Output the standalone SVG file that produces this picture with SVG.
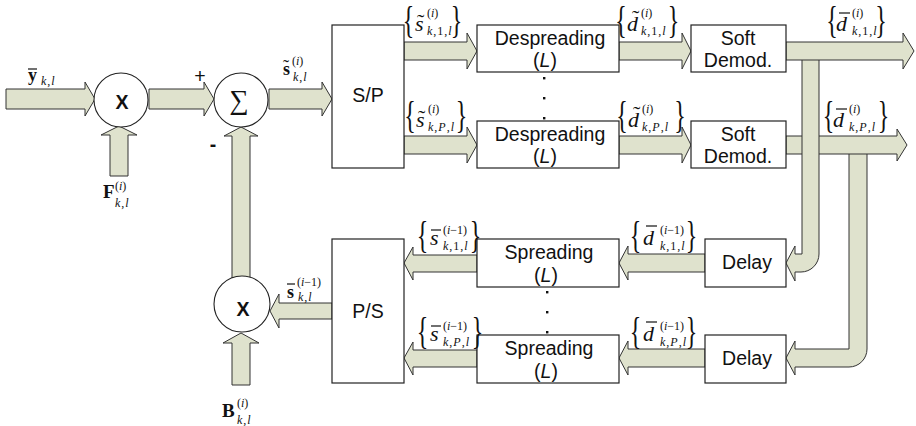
<svg xmlns="http://www.w3.org/2000/svg" width="916" height="426" viewBox="0 0 916 426">
<style>
.ar{fill:#dfe2cd;stroke:#333;stroke-width:1;stroke-linejoin:miter}
.bx{fill:#fff;stroke:#222;stroke-width:1.2}
.ci{fill:#fff;stroke:#222;stroke-width:1.1}
.t{font-family:"Liberation Sans",Arial,sans-serif;font-size:19.5px;text-anchor:middle;fill:#111}
.m{font-family:"Liberation Serif","Times New Roman",serif;fill:#111}
.mi{font-size:22px;font-style:italic}
.sp{font-size:12px}
.sb{font-size:12px;font-style:italic;letter-spacing:1px}
.br{font-size:24px;text-anchor:middle}
.ac{stroke:#111;stroke-width:1.2}
</style>
<rect width="916" height="426" fill="#fff"/>
<g id="connectors">
<polygon class="ar" points="6,89 85,89 85,82 95,99 85,116 85,109 6,109"/>
<polygon class="ar" points="149,89 204,89 204,82 214,99 204,116 204,109 149,109"/>
<polygon class="ar" points="269,89 322,89 322,82 332,99 322,116 322,109 269,109"/>
<polygon class="ar" points="110,176 110,135 101,135 119,126 137,135 128,135 128,176"/>
<polygon class="ar" points="232,278 232,136 224,136 241,127 258,136 250,136 250,278"/>
<polygon class="ar" points="232,385 232,343 223,343 241,333 259,343 250,343 250,385"/>
<polygon class="ar" points="332,303 279,303 279,294 270,311 279,328 279,319 332,319"/>
<polygon class="ar" points="404,42 467,42 467,33 477,51 467,69 467,60 404,60"/>
<polygon class="ar" points="404,136 467,136 467,127 477,145 467,163 467,154 404,154"/>
<polygon class="ar" points="619,42 682,42 682,33 691,51 682,69 682,60 619,60"/>
<polygon class="ar" points="619,136 682,136 682,127 691,145 682,163 682,154 619,154"/>
<path class="ar" d="M849,150 L849,349 L795,349 L795,341 L786,358 L795,375 L795,367 L849,367 A18,18 0 0 0 867,349 L867,150 Z"/>
<polygon class="ar" points="786,136 897,136 897,129 907,145 897,161 897,154 786,154"/>
<path class="ar" d="M802,56 L802,254 L795,254 L795,246 L786,263 L795,281 L795,272 L801,272 A18,18 0 0 0 819,254 L819,56 Z"/>
<polygon class="ar" points="786,42 903,42 903,33 914,51 903,69 903,60 786,60"/>
<polygon class="ar" points="705,254 628,254 628,246 619,263 628,280 628,272 705,272"/>
<polygon class="ar" points="705,349 628,349 628,341 619,358 628,375 628,367 705,367"/>
<polygon class="ar" points="477,255 413,255 413,247 404,263 413,280 413,272 477,272"/>
<polygon class="ar" points="477,350 413,350 413,342 404,358 413,375 413,367 477,367"/>
</g>
<g id="mul1"><circle class="ci" cx="121" cy="100" r="27"/><text class="t" x="122" y="109" font-size="24" font-weight="bold">X</text></g>
<g id="sum"><circle class="ci" cx="241" cy="100" r="27"/><text class="m" x="239" y="109" font-size="27" text-anchor="middle">∑</text>
<text class="t" x="200" y="83" font-size="22">+</text><text class="t" x="213" y="151" font-size="21" font-weight="bold">-</text></g>
<g id="mul2"><circle class="ci" cx="242" cy="304" r="28"/><text class="t" x="243" y="316" font-size="24" font-weight="bold">X</text></g>
<g id="sp"><rect class="bx" x="332" y="25" width="72" height="143"/><text class="t" x="368" y="102">S/P</text></g>
<g id="ps"><rect class="bx" x="332" y="239" width="72" height="144"/><text class="t" x="368" y="318">P/S</text></g>
<g id="desp1"><rect class="bx" x="477" y="25" width="142" height="47"/><text class="t" x="550" y="45">Despreading</text><text class="t" x="545" y="67">(<tspan font-style="italic">L</tspan>)</text></g>
<g id="desp2"><rect class="bx" x="477" y="121" width="142" height="47"/><text class="t" x="550" y="141">Despreading</text><text class="t" x="545" y="163">(<tspan font-style="italic">L</tspan>)</text></g>
<g id="soft1"><rect class="bx" x="691" y="25" width="95" height="47"/><text class="t" x="738" y="45">Soft</text><text class="t" x="738" y="67">Demod.</text></g>
<g id="soft2"><rect class="bx" x="691" y="121" width="95" height="47"/><text class="t" x="738" y="141">Soft</text><text class="t" x="738" y="163">Demod.</text></g>
<g id="spr1"><rect class="bx" x="477" y="239" width="142" height="48"/><text class="t" x="549" y="259">Spreading</text><text class="t" x="546" y="282">(<tspan font-style="italic">L</tspan>)</text></g>
<g id="spr2"><rect class="bx" x="477" y="335" width="142" height="48"/><text class="t" x="549" y="355">Spreading</text><text class="t" x="546" y="378">(<tspan font-style="italic">L</tspan>)</text></g>
<g id="delay1"><rect class="bx" x="705" y="239" width="81" height="48"/><text class="t" x="747" y="269">Delay</text></g>
<g id="delay2"><rect class="bx" x="705" y="335" width="81" height="48"/><text class="t" x="747" y="365">Delay</text></g>
<g id="dots" fill="#111">
<rect x="543" y="77" width="2.4" height="2.4"/><rect x="543" y="97" width="2.4" height="2.4"/><rect x="543" y="117" width="2.4" height="2.4"/>
<rect x="546" y="291" width="2.4" height="2.4"/><rect x="546" y="311" width="2.4" height="2.4"/><rect x="546" y="331" width="2.4" height="2.4"/>
</g>
<g id="labels">
<text class="m" x="28" y="81" font-size="18" font-weight="bold">y</text><line class="ac" x1="28" y1="69" x2="37" y2="69"/>
<text class="m sb" x="41" y="85">k<tspan font-style="normal">,</tspan>l</text>
<text class="m" x="103" y="198" font-size="19" font-weight="bold">F</text>
<text class="m sp" x="115" y="190">(<tspan font-style="italic">i</tspan>)</text>
<text class="m sb" x="115" y="207">k<tspan font-style="normal">,</tspan>l</text>
<text class="m" x="283" y="75" font-size="18" font-weight="bold">s</text><text class="m" x="283" y="73" font-size="18">˜</text>
<text class="m sp" x="292" y="65">(<tspan font-style="italic">i</tspan>)</text>
<text class="m sb" x="293" y="81">k<tspan font-style="normal">,</tspan>l</text>
<text class="m" x="287" y="298" font-size="18" font-weight="bold">s</text><line class="ac" x1="287" y1="284" x2="295" y2="284"/>
<text class="m sp" x="297" y="286">(<tspan font-style="italic">i</tspan>−1)</text>
<text class="m sb" x="298" y="301">k<tspan font-style="normal">,</tspan>l</text>
<text class="m" x="222" y="417" font-size="19" font-weight="bold">B</text>
<text class="m sp" x="237" y="407">(<tspan font-style="italic">i</tspan>)</text>
<text class="m sb" x="237" y="424">k<tspan font-style="normal">,</tspan>l</text>

<text class="m br" transform="translate(408.5,33) scale(1,1.55)">{</text>
<text class="m mi" x="415" y="31">s</text><text class="m" x="417" y="29" font-size="22">˜</text>
<text class="m sp" x="427" y="17">(<tspan font-style="italic">i</tspan>)</text>
<text class="m sb" x="427" y="35">k<tspan font-style="normal">,1,</tspan>l</text>
<text class="m br" transform="translate(456.5,33) scale(1,1.55)">}</text>

<text class="m br" transform="translate(410,128) scale(1,1.6)">{</text>
<text class="m mi" x="416" y="127">s</text><text class="m" x="418" y="125" font-size="22">˜</text>
<text class="m sp" x="428" y="113">(<tspan font-style="italic">i</tspan>)</text>
<text class="m sb" x="428" y="131">k<tspan font-style="normal">,</tspan>P<tspan font-style="normal">,</tspan>l</text>
<text class="m br" transform="translate(461.5,128) scale(1,1.6)">}</text>

<text class="m br" transform="translate(621,33) scale(1,1.55)">{</text>
<text class="m mi" x="627" y="31">d</text><text class="m" x="632" y="25" font-size="22">˜</text>
<text class="m sp" x="641" y="17">(<tspan font-style="italic">i</tspan>)</text>
<text class="m sb" x="641" y="35">k<tspan font-style="normal">,1,</tspan>l</text>
<text class="m br" transform="translate(673.5,33) scale(1,1.55)">}</text>

<text class="m br" transform="translate(622,128) scale(1,1.6)">{</text>
<text class="m mi" x="628" y="127">d</text><text class="m" x="633" y="121" font-size="22">˜</text>
<text class="m sp" x="642" y="113">(<tspan font-style="italic">i</tspan>)</text>
<text class="m sb" x="642" y="131">k<tspan font-style="normal">,</tspan>P<tspan font-style="normal">,</tspan>l</text>
<text class="m br" transform="translate(680,128) scale(1,1.6)">}</text>

<text class="m br" transform="translate(832,33) scale(1,1.55)">{</text>
<text class="m mi" x="836" y="31">d</text><line class="ac" x1="839" y1="13" x2="850" y2="13"/>
<text class="m sp" x="852" y="17">(<tspan font-style="italic">i</tspan>)</text>
<text class="m sb" x="852" y="35">k<tspan font-style="normal">,1,</tspan>l</text>
<text class="m br" transform="translate(881,33) scale(1,1.55)">}</text>

<text class="m br" transform="translate(828.5,128) scale(1,1.6)">{</text>
<text class="m mi" x="833" y="127">d</text><line class="ac" x1="836" y1="109" x2="847" y2="109"/>
<text class="m sp" x="849" y="113">(<tspan font-style="italic">i</tspan>)</text>
<text class="m sb" x="849" y="131">k<tspan font-style="normal">,</tspan>P<tspan font-style="normal">,</tspan>l</text>
<text class="m br" transform="translate(883.5,128) scale(1,1.6)">}</text>

<text class="m br" transform="translate(422.5,248) scale(1,1.6)">{</text>
<text class="m mi" x="430" y="245">s</text><line class="ac" x1="431" y1="230" x2="441" y2="230"/>
<text class="m sp" x="443" y="234">(<tspan font-style="italic">i</tspan>−1)</text>
<text class="m sb" x="443" y="250">k<tspan font-style="normal">,1,</tspan>l</text>
<text class="m br" transform="translate(475.5,248) scale(1,1.6)">}</text>

<text class="m br" transform="translate(422.5,344) scale(1,1.6)">{</text>
<text class="m mi" x="430" y="341">s</text><line class="ac" x1="431" y1="326" x2="441" y2="326"/>
<text class="m sp" x="443" y="330">(<tspan font-style="italic">i</tspan>−1)</text>
<text class="m sb" x="443" y="346">k<tspan font-style="normal">,</tspan>P<tspan font-style="normal">,</tspan>l</text>
<text class="m br" transform="translate(477.5,344) scale(1,1.6)">}</text>

<text class="m br" transform="translate(635.5,248) scale(1,1.6)">{</text>
<text class="m mi" x="643" y="245">d</text><line class="ac" x1="646" y1="226" x2="657" y2="226"/>
<text class="m sp" x="660" y="234">(<tspan font-style="italic">i</tspan>−1)</text>
<text class="m sb" x="660" y="250">k<tspan font-style="normal">,1,</tspan>l</text>
<text class="m br" transform="translate(691.5,248) scale(1,1.6)">}</text>

<text class="m br" transform="translate(635.5,344) scale(1,1.6)">{</text>
<text class="m mi" x="643" y="341">d</text><line class="ac" x1="646" y1="322" x2="657" y2="322"/>
<text class="m sp" x="660" y="330">(<tspan font-style="italic">i</tspan>−1)</text>
<text class="m sb" x="660" y="346">k<tspan font-style="normal">,</tspan>P<tspan font-style="normal">,</tspan>l</text>
<text class="m br" transform="translate(691.5,344) scale(1,1.6)">}</text>
</g>
</svg>
